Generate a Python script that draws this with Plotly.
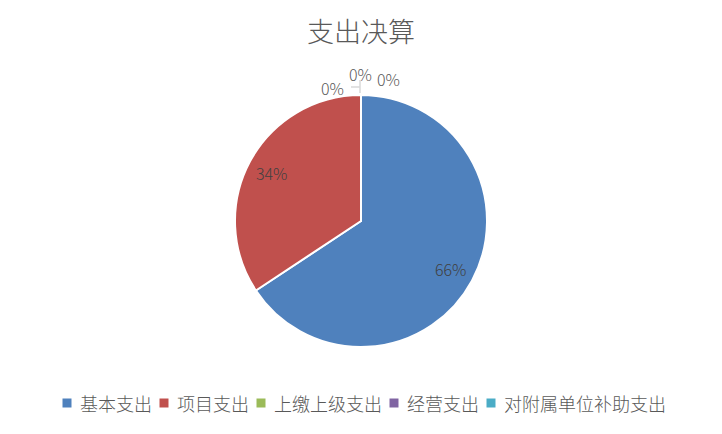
import math
import plotly.graph_objects as go

# données du graphique
categories = ["基本支出", "项目支出", "上缴上级支出", "经营支出", "对附属单位补助支出"]
valeurs = [65.7, 34.3, 0, 0, 0]
couleurs = ["#4F81BD", "#C0504D", "#9BBB59", "#8064A2", "#4BACC6"]
titre = "支出决算"

W, H = 722, 434
POLICE = "Noto Sans CJK SC"
GRIS = "#595959"

# géométrie du camembert, en pixels
CX, CY, R = 361, 221, 126

def px(x):
  return x / W

def py(y):
  return 1 - y / H

fig = go.Figure()
fig.add_trace(go.Pie(
    labels=categories,
    values=valeurs,
    sort=False,
    direction="clockwise",
    rotation=0,
    marker=dict(colors=couleurs, line=dict(color="white", width=2)),
    textinfo="none",
    hoverinfo="label+percent",
    showlegend=False,
    domain=dict(x=[px(CX - R), px(CX + R)], y=[py(CY + R), py(CY - R)]),
))

annotations = []
shapes = []

# étiquettes de pourcentage, placées comme dans Excel (à ~0.81 du rayon)
total = sum(valeurs)
cumul = 0
# décalages des étiquettes des tranches nulles (par rapport au sommet du camembert)
decalages_zero = [(-28.5, -7.5), (0, -21), (27, -16)]
iz = 0
for v in valeurs:
  pct = f"{round(v / total * 100)}%"
  if v > 0:
    theta = 2 * math.pi * (cumul + v / 2) / total
    x = CX + 0.81 * R * math.sin(theta)
    y = CY - 0.81 * R * math.cos(theta)
    couleur_txt = "#404040"
  else:
    theta = 2 * math.pi * cumul / total
    bx = CX + R * math.sin(theta)
    by = CY - R * math.cos(theta)
    dx, dy = decalages_zero[iz]
    iz += 1
    x, y = bx + dx, by + dy
    couleur_txt = GRIS
  annotations.append(dict(
      text=pct, x=px(x), y=py(y), xref="paper", yref="paper",
      xanchor="center", yanchor="middle", showarrow=False,
      font=dict(family=POLICE, size=16, color=couleur_txt, weight=300)))
  cumul += v

# petites lignes de rappel des tranches nulles
for (x0, y0, x1, y1) in [(CX - 10, 87, CX - 1, 87), (CX - 1, 80, CX - 1, 93)]:
  shapes.append(dict(type="line", xref="paper", yref="paper",
                     x0=px(x0), y0=py(y0), x1=px(x1), y1=py(y1),
                     line=dict(color="#D9D9D9", width=1.5)))

# légende faite à la main pour suivre l'espacement d'Excel
TAILLE_LEG = 18
CARRE, ECART, ESPACE = 9, 6, 10
larg_totale = sum(CARRE + ECART + len(c) * TAILLE_LEG for c in categories) + ESPACE * (len(categories) - 1)
x = CX - larg_totale / 2 + 2
YL = 403
for nom, couleur in zip(categories, couleurs):
  shapes.append(dict(type="rect", xref="paper", yref="paper",
                     x0=px(x), x1=px(x + CARRE), y0=py(YL - CARRE / 2), y1=py(YL + CARRE / 2),
                     fillcolor=couleur, line=dict(width=0)))
  annotations.append(dict(
      text=nom, x=px(x + CARRE + ECART), y=py(YL), xref="paper", yref="paper",
      xanchor="left", yanchor="middle", showarrow=False,
      font=dict(family=POLICE, size=TAILLE_LEG, color=GRIS, weight=300)))
  x += CARRE + ECART + len(nom) * TAILLE_LEG + ESPACE

fig.update_layout(
    width=W, height=H,
    margin=dict(l=0, r=0, t=0, b=0),
    paper_bgcolor="white",
    plot_bgcolor="white",
    font=dict(family=POLICE, color=GRIS),
    title=dict(text=titre, x=0.5, xanchor="center", y=py(33), yanchor="middle",
               font=dict(family=POLICE, size=27, color=GRIS, weight=300)),
    annotations=annotations,
    shapes=shapes,
)

fig.write_html("out.html", config={"displayModeBar": False},
               post_script="document.body.style.margin='0';")
